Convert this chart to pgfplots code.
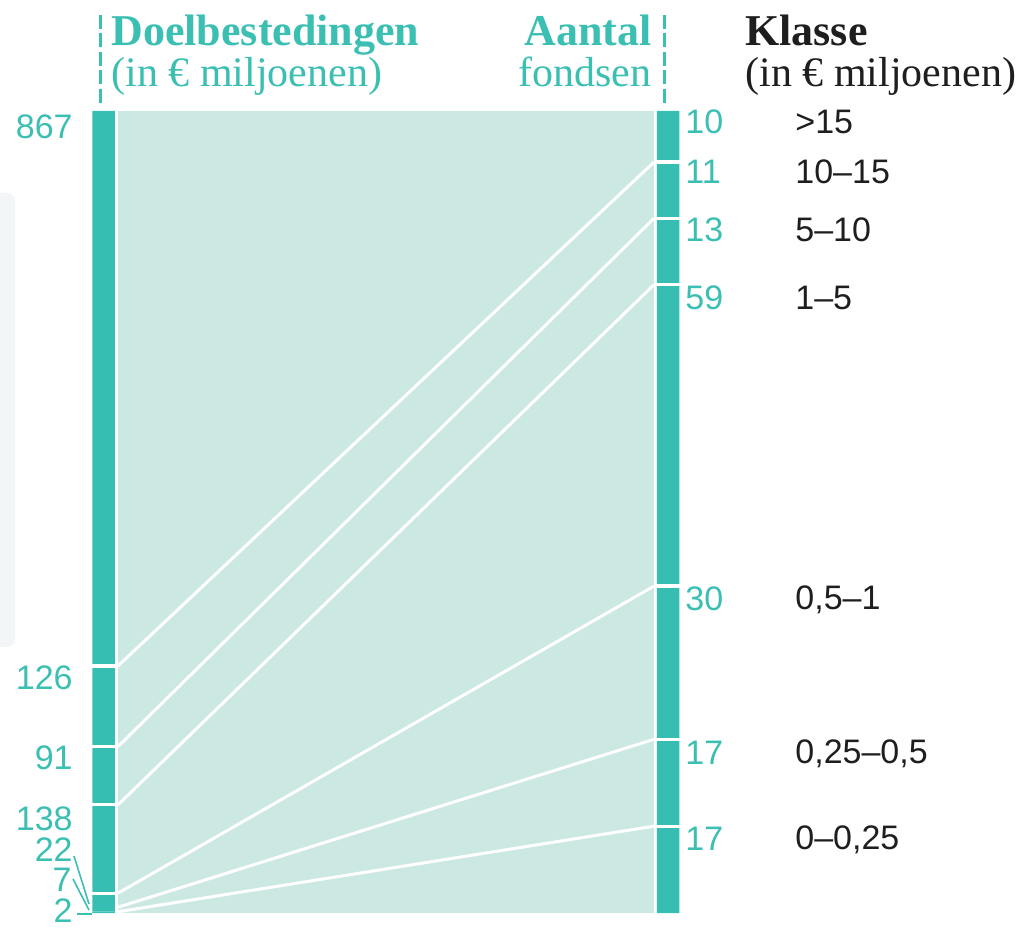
\documentclass[border=0pt]{standalone}
\usepackage{pgfplots}
\pgfplotsset{compat=1.18}
\usepackage{pgfplotstable}
\usepackage{fontspec}
\setmainfont{Liberation Serif}
\newfontfamily\numfont{Liberation Sans}
\definecolor{bar}{HTML}{37BEB3}
\definecolor{light}{HTML}{CBE8E3}
\definecolor{tealtxt}{HTML}{3CBFB3}
\definecolor{klasse}{HTML}{1E1E1E}
\definecolor{panel}{HTML}{F3F6F6}

% segment values, bottom to top; left = Doelbestedingen (total 1253), right = Aantal fondsen (total 157)
\pgfplotstableread{
x     tot  s1 s2 s3 s4  s5 s6  s7
103.5 1253 2  7  22 138 91 126 867
668   157  17 17 30 59  13 11  10
}\segs

\begin{document}
\begin{tikzpicture}
\begin{axis}[
  scale only axis, width=509pt, height=463.5pt,
  xmin=0, xmax=1018, ymin=-14, ymax=913,
  hide axis, clip=false,
  ybar stacked, bar width=22.5,
]
% faint background panel (cut at the left edge)
\fill[panel] (axis cs:0,266) [rounded corners=4pt] -- (axis cs:15,266) -- (axis cs:15,720) [sharp corners] -- (axis cs:0,720) -- cycle;
% light band
\addplot[ybar=0pt, fill=light, draw=none, forget plot, stack plots=false, sharp plot]
  coordinates {(118,0) (654,0) (654,802) (118,802)} -- cycle;
% stacked bars
\pgfplotsinvokeforeach{1,...,7}{
  \addplot[fill=bar, draw=none] table[x=x, y expr=\thisrow{s#1}*802/\thisrow{tot}] {\segs};
}
\end{axis}
\begin{axis}[
  scale only axis, width=509pt, height=463.5pt,
  xmin=0, xmax=1018, ymin=-14, ymax=913,
  hide axis, clip=false,
]
% separators (cumulative boundaries)
\pgfplotsinvokeforeach{31,169,260,386}{
  \addplot[white, line width=1.6pt] table[row sep=\\, y expr=\thisrow{v}*802/1253]{x v\\ 90 #1\\ 117 #1\\};
}
\pgfplotsinvokeforeach{17,34,64,123,136,147}{
  \addplot[white, line width=1.6pt] table[row sep=\\, y expr=\thisrow{v}*802/157]{x v\\ 655 #1\\ 681 #1\\};
}
% connecting lines: left cumulative -> right cumulative
\addplot[white, line width=1.5pt] table[row sep=\\, y expr=\thisrow{v}*802/\thisrow{t}]{x v t\\ 118 386 1253\\ 654 147 157\\};
\addplot[white, line width=1.5pt] table[row sep=\\, y expr=\thisrow{v}*802/\thisrow{t}]{x v t\\ 118 260 1253\\ 654 136 157\\};
\addplot[white, line width=1.5pt] table[row sep=\\, y expr=\thisrow{v}*802/\thisrow{t}]{x v t\\ 118 169 1253\\ 654 123 157\\};
\addplot[white, line width=1.5pt] table[row sep=\\, y expr=\thisrow{v}*802/\thisrow{t}]{x v t\\ 118 31 1253\\ 654 64 157\\};
\addplot[white, line width=1.5pt] table[row sep=\\, y expr=\thisrow{v}*802/\thisrow{t}]{x v t\\ 118 9 1253\\ 654 34 157\\};
\addplot[white, line width=1.5pt] table[row sep=\\, y expr=\thisrow{v}*802/\thisrow{t}]{x v t\\ 118 2 1253\\ 654 17 157\\};

% header dashed lines
\draw[tealtxt, line width=1.5pt, dash pattern=on 7pt off 2.2pt] (axis cs:100,898) -- (axis cs:100,809);
\draw[tealtxt, line width=1.5pt, dash pattern=on 7pt off 2.2pt] (axis cs:664,898) -- (axis cs:664,809);

% headers
\node[anchor=base west, inner sep=0, text=tealtxt, font=\fontsize{22pt}{24pt}\selectfont\bfseries] at (axis cs:111,867) {Doelbestedingen};
\node[anchor=base west, inner sep=0, text=tealtxt, font=\fontsize{21pt}{24pt}\selectfont] at (axis cs:111,826) {(in € miljoenen)};
\node[anchor=base east, inner sep=0, text=tealtxt, font=\fontsize{22pt}{24pt}\selectfont\bfseries] at (axis cs:652,867) {Aantal};
\node[anchor=base east, inner sep=0, text=tealtxt, font=\fontsize{21pt}{24pt}\selectfont] at (axis cs:652,826) {fondsen};
\node[anchor=base west, inner sep=0, text=klasse, font=\fontsize{22pt}{24pt}\selectfont\bfseries] at (axis cs:745,867) {Klasse};
\node[anchor=base west, inner sep=0, text=klasse, font=\fontsize{21pt}{24pt}\selectfont] at (axis cs:745,826) {(in € miljoenen)};

% left values
\begin{scope}[every node/.style={anchor=east, inner sep=0, text=tealtxt, font=\numfont\fontsize{17pt}{20pt}\selectfont}]
\node at (axis cs:73,786) {867};
\node at (axis cs:73,235) {126};
\node at (axis cs:73,155) {91};
\node at (axis cs:73,94) {138};
\node at (axis cs:73,63) {22};
\node at (axis cs:72,33) {7};
\node at (axis cs:73,2) {2};
\end{scope}
% leader lines
\draw[tealtxt, line width=0.8pt] (axis cs:74,57) -- (axis cs:89,9);
\draw[tealtxt, line width=0.8pt] (axis cs:73,34) -- (axis cs:89,3);
\draw[tealtxt, line width=0.8pt] (axis cs:77,-1) -- (axis cs:92,-1);

% right values
\begin{scope}[every node/.style={anchor=west, inner sep=0, text=tealtxt, font=\numfont\fontsize{17pt}{20pt}\selectfont}]
\node at (axis cs:685,791) {10};
\node at (axis cs:685,741) {11};
\node at (axis cs:685,683) {13};
\node at (axis cs:685,615) {59};
\node at (axis cs:685,314) {30};
\node at (axis cs:685,160) {17};
\node at (axis cs:685,74) {17};
\end{scope}
% classes
\begin{scope}[every node/.style={anchor=base west, inner sep=0, text=klasse, font=\numfont\fontsize{17pt}{20pt}\selectfont}]
\node at (axis cs:795,779) {>15};
\node at (axis cs:795,729) {10–15};
\node at (axis cs:795,671) {5–10};
\node at (axis cs:795,603) {1–5};
\node at (axis cs:795,303) {0,5–1};
\node at (axis cs:795,149) {0,25–0,5};
\node at (axis cs:795,63) {0–0,25};
\end{scope}
\path (axis cs:0,-14) rectangle (axis cs:1018,913);
\end{axis}
\end{tikzpicture}
\end{document}
